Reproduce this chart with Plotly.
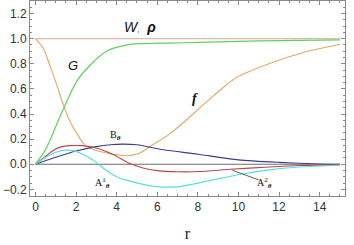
import plotly.graph_objects as go

r_W = [0, 15]
W = [1.0, 1.0]

r_G = [0, 0.4, 0.7, 1.1, 1.54, 2.03, 2.7, 3.5, 4.5, 5.15, 6.6, 8, 10, 12, 15]
G = [0, 0.09, 0.185, 0.34, 0.50, 0.66, 0.79, 0.90, 0.95, 0.96, 0.965, 0.97, 0.978, 0.985, 0.99]

r_f = [0, 0.38, 0.7, 1.05, 1.37, 1.7, 2.0, 2.45, 3.0, 3.5, 4.0, 4.5, 5.15, 5.6, 6.6, 7.35, 8.45, 9.9, 11.5, 13.2, 15]
f = [1.0, 0.925, 0.79, 0.63, 0.475, 0.34, 0.255, 0.15, 0.11, 0.09, 0.075, 0.068, 0.09, 0.137, 0.24, 0.34, 0.50, 0.69, 0.80, 0.89, 0.955]

r_B = [0, 1.0, 2.0, 3.0, 3.7, 4.3, 5.0, 6.3, 8.0, 10.0, 12, 14, 15]
B = [0, 0.055, 0.105, 0.14, 0.155, 0.16, 0.155, 0.115, 0.08, 0.035, 0.015, 0.002, 0.0]

r_A2 = [0, 0.4, 0.87, 1.3, 1.7, 2.3, 3.0, 3.8, 4.65, 5.3, 6.1, 7.0, 8.1, 9.6, 11.5, 13, 15]
A2 = [0, 0.05, 0.11, 0.14, 0.148, 0.148, 0.13, 0.08, 0.005, -0.03, -0.053, -0.06, -0.058, -0.04, -0.022, -0.01, -0.003]

r_A1 = [0, 0.5, 1.0, 1.35, 1.85, 2.5, 3.0, 3.5, 4.0, 4.65, 5.6, 6.3, 7.1, 8.6, 10.1, 11.5, 13, 15]
A1 = [0, 0.055, 0.095, 0.11, 0.108, 0.065, 0.013, -0.05, -0.1, -0.135, -0.17, -0.182, -0.178, -0.13, -0.08, -0.045, -0.022, -0.008]

r_zero = [0, 15]
zero = [0, 0]

x_ticks = [0, 2, 4, 6, 8, 10, 12, 14]
y_ticks = [-0.2, 0.0, 0.2, 0.4, 0.6, 0.8, 1.0, 1.2]
y_tick_text = ["\u22120.2", "0.0", "0.2", "0.4", "0.6", "0.8", "1.0", "1.2"]

fig = go.Figure()

def add(x, y, color, width=1.1):
    fig.add_trace(go.Scatter(x=x, y=y, mode="lines", line=dict(color=color, width=width, shape="spline", smoothing=0.7),
                             showlegend=False, hoverinfo="skip"))

add(r_zero, zero, "#6e6e6e", 1.2)
add(r_W, W, "#dcbcaa", 1.2)
add(r_f, f, "#e2a766")
add(r_G, G, "#5fd15f", 1.2)
add(r_B, B, "#3c3c90")
add(r_A2, A2, "#b84848")
add(r_A1, A1, "#55dede", 1.2)

anns = [
    dict(x=5.15, y=1.09, text="<i>W</i><span style='font-size:8px'>,</span>  <b><i>\u03c1</i></b>", font=dict(family="Liberation Sans", size=14, color="#111")),
    dict(x=1.85, y=0.79, text="<i>G</i>", font=dict(family="Liberation Sans", size=13, color="#111")),
    dict(x=7.85, y=0.52, text="<b><i>f</i></b>", font=dict(family="Liberation Serif", size=14, color="#111")),
    dict(x=3.95, y=0.225, text="B<sub><b><i>\u03b8</i></b></sub>", font=dict(family="Liberation Serif", size=10, color="#111")),
    dict(x=3.3, y=-0.15, text="A<sup>1</sup><sub><b><i>\u03b8</i></b></sub>", font=dict(family="Liberation Serif", size=10, color="#111")),
    dict(x=11.3, y=-0.15, text="A<sup>2</sup><sub><b><i>\u03b8</i></b></sub>", font=dict(family="Liberation Serif", size=10, color="#111")),
]
for a in anns:
    fig.add_annotation(showarrow=False, xref="x", yref="y", **a)

fig.add_shape(type="line", x0=9.7, y0=-0.048, x1=11.0, y1=-0.125, xref="x", yref="y",
              line=dict(color="#333", width=0.8))

axis_common = dict(showline=True, linecolor="#8a8a8a", linewidth=1, mirror="allticks", ticks="inside",
                   ticklen=4, tickcolor="#8a8a8a", tickwidth=1, showgrid=False, zeroline=False, automargin=False,
                   tickfont=dict(family="Liberation Sans", size=12, color="#333"))

fig.update_xaxes(range=[-0.27, 15.25], tickvals=x_ticks, **axis_common,
                 minor=dict(dtick=0.5, ticks="inside", ticklen=2, tickcolor="#8a8a8a", showgrid=False),
                 title=dict(text="r", font=dict(family="Liberation Serif", size=16, color="#222"), standoff=14))
fig.update_yaxes(range=[-0.253, 1.30], tickvals=y_ticks, ticktext=y_tick_text, **axis_common,
                 minor=dict(dtick=0.05, ticks="inside", ticklen=2, tickcolor="#8a8a8a", showgrid=False))

fig.update_layout(width=354, height=245, margin=dict(l=30, r=9, t=1, b=49),
                  plot_bgcolor="white", paper_bgcolor="white")

fig.write_html("out.html", config={"displayModeBar": False},
               post_script="document.body.style.margin='0';document.body.style.overflow='hidden';")
